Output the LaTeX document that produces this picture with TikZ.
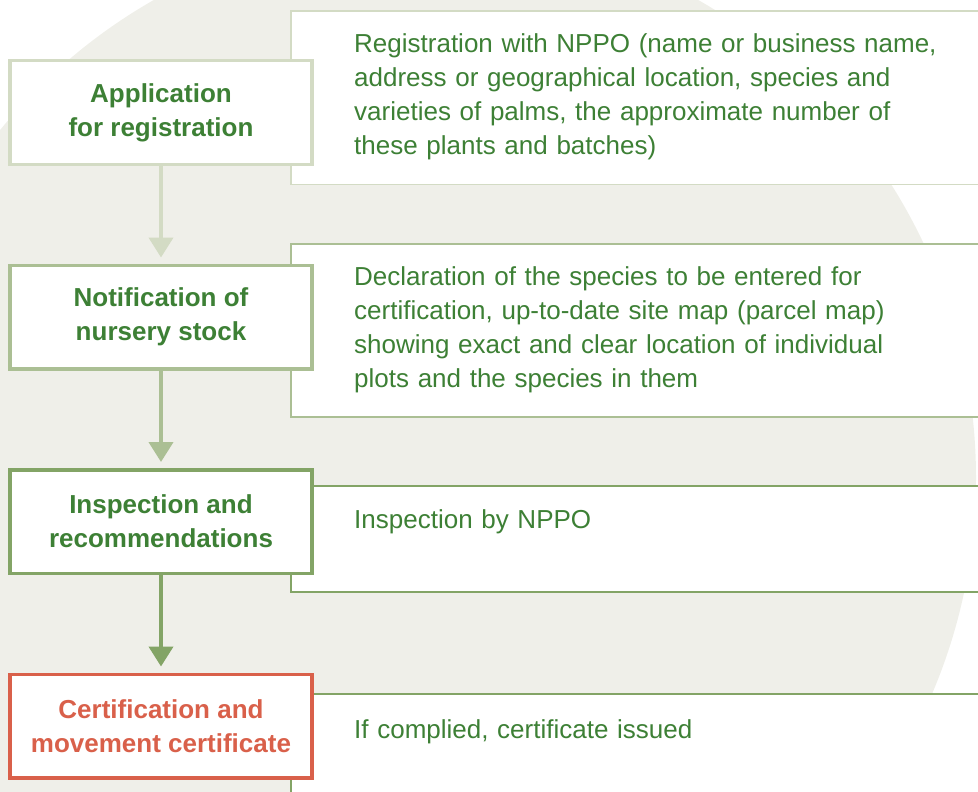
\documentclass[tikz,border=0pt]{standalone}
\usepackage{fontspec}
\setmainfont{Liberation Sans}
\usetikzlibrary{arrows.meta}
\usetikzlibrary{positioning}

\definecolor{backdrop}{HTML}{EFEFE9}
\definecolor{leafgreen}{HTML}{3D8035}
\definecolor{stageone}{HTML}{D3DBC4}
\definecolor{stagetwo}{HTML}{ABBF94}
\definecolor{stagethree}{HTML}{83A466}
\definecolor{alertred}{HTML}{D9604A}

\begin{document}
\begin{tikzpicture}[x=1pt, y=-1pt,
    stagebox/.style={draw, fill=white, line width=3.5pt, minimum width=302pt,
      minimum height=103.5pt, align=center, font=\fontsize{26}{34}\selectfont\bfseries,
      text=leafgreen, inner sep=0pt},
    infotext/.style={anchor=north west, align=left, text width=620pt, inner sep=0pt,
      font=\fontsize{26}{34}\selectfont, text=leafgreen},
    infoframe/.style={fill=white, line width=1.5pt},
    flow/.style={line width=4pt, -{Triangle[length=20pt, width=24pt]}, shorten >=6pt}
  ]
  \useasboundingbox (0, 0) rectangle (978, 792);
  % the big disc behind everything
  \fill[backdrop] (426, 478) circle (550);

  % description frames, open to the right
  \draw[infoframe, draw=stageone] (990, 11) -- (291, 11) -- (291, 184.5) -- (990, 184.5);
  \draw[infoframe, draw=stagetwo] (990, 244) -- (291, 244) -- (291, 417) -- (990, 417);
  \draw[infoframe, draw=stagethree] (990, 486) -- (291, 486) -- (291, 592) -- (990, 592);
  \draw[infoframe, draw=stagethree] (990, 694) -- (291, 694) -- (291, 800) -- (990, 800);

  \node[infotext] (regtext) at (354, 33.5) {Registration with NPPO (name or business name,\\
    address or geographical location, species and\\
    varieties of palms, the approximate number of\\
    these plants and batches)};
  \node[infotext] (stocktext) at (354, 266.5) {Declaration of the species to be entered for\\
    certification, up-to-date site map (parcel map)\\
    showing exact and clear location of individual\\
    plots and the species in them};
  \node[infotext] (inspecttext) at (354, 509.5) {Inspection by NPPO};
  \node[infotext] (certtext) at (354, 719) {If complied, certificate issued};

  % the four stages
  \node[stagebox, draw=stageone] (apply) at (161, 112.5) {Application\\for registration};
  \node[stagebox, draw=stagetwo] (notify) at (161, 317) {Notification of\\nursery stock};
  \node[stagebox, draw=stagethree] (inspect) at (161, 521.5) {Inspection and\\recommendations};
  \node[stagebox, draw=alertred, text=alertred] (certify) at (161, 726) {Certification and\\movement certificate};

  \draw[flow, stageone] (apply) -- (notify);
  \draw[flow, stagetwo] (notify) -- (inspect);
  \draw[flow, stagethree] (inspect) -- (certify);
\end{tikzpicture}
\end{document}
